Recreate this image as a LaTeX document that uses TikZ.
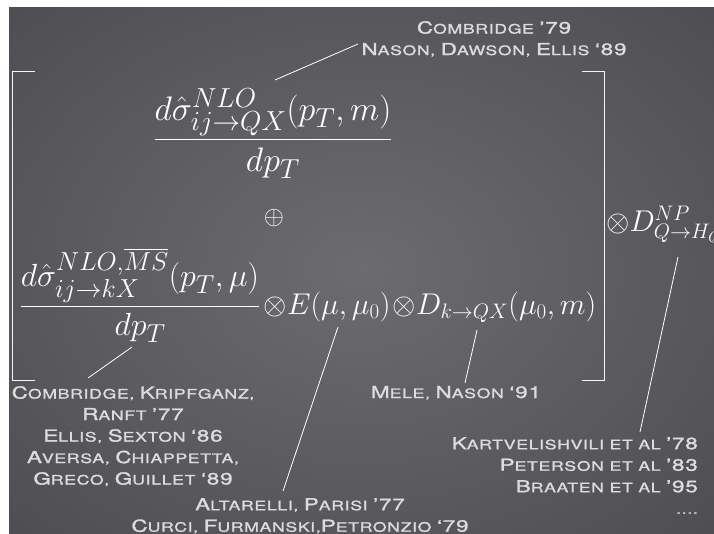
\RequirePackage{fix-cm}
\documentclass[tikz,border=0pt]{standalone}
\usepackage{amsmath}
\usepackage{fontspec}
\usetikzlibrary{positioning}

\newfontfamily\citefont[FakeStretch=1.36,FakeBold=1.5,LetterSpace=5]{TeX Gyre Heros}
\DeclareMathSizes{34}{34}{27.5}{21}
\DeclareMathSizes{32}{32}{26}{20}
\DeclareMathSizes{30}{30}{21}{16}
\newcommand\bc[1]{{\fontsize{16.5}{16.5}\selectfont #1}}

\definecolor{citegray}{HTML}{DCDCDC}
\definecolor{slidemid}{HTML}{6C6C70}
\definecolor{slideedge}{HTML}{333337}
\pgfdeclareradialshading{slideshade}{\pgfpoint{0bp}{0bp}}{color(0bp)=(slidemid); color(68bp)=(slideedge)}

\begin{document}
\begin{tikzpicture}[x=1pt, y=-1pt,
  link/.style={white, line width=0.8pt},
  brk/.style={white!92!gray, line width=1pt},
  eqn/.style={inner sep=0pt, text=white, font=\fontsize{32}{38}\selectfont},
  eqs/.style={inner sep=0pt, text=white, font=\fontsize{30}{36}\selectfont},
  cite/.style={inner sep=0pt, text=citegray, font=\citefont\fontsize{13}{21.5}\selectfont}]
\useasboundingbox (0,0) rectangle (714,533);
\clip (0,0) rectangle (714,533);

% slide background
\fill[white] (0,0) rectangle (714,533);
\shade[shading=slideshade] (9,7) rectangle (714,533);

% formula
\node[eqn, font=\fontsize{34}{40}\selectfont, anchor=base] (numQ) at (273,148) {$\dfrac{d\hat\sigma^{NLO}_{ij\to QX}(p_T,m)}{dp_T}$};
\node[inner sep=0pt, text=white, font=\fontsize{26}{30}\selectfont] (plus) at (274,218) {$\oplus$};
\node[eqn, anchor=base] (numk) at (140,314) {$\dfrac{d\hat\sigma^{NLO,\overline{MS}}_{ij\to kX}(p_T,\mu)}{dp_T}$};
\node[eqs, base right=3pt of numk] (evol) {$\otimes E(\mu,\mu_0)$};
\node[eqs, base right=2pt of evol] (frag) {$\otimes D_{k\to QX}(\mu_0,m)$};
\node[eqs, anchor=base west] (npfrag) at (606,231) {$\otimes D^{NP}_{Q\to H_Q}$};

% square brackets
\draw[brk] (35,71) -| (12,380) -- (35,380);
\draw[brk] (582,71) -| (604,380) -- (582,380);

% references
\node[cite, align=center, anchor=north] (combr) at (494,21) {\bc{C}OMBRIDGE \bc{’79}\\ \bc{N}ASON, \bc{D}AWSON, \bc{E}LLIS \bc{‘89}};
\node[cite, align=center, anchor=north] (kripf) at (133,386) {\bc{C}OMBRIDGE, \bc{K}RIPFGANZ,\\ \bc{R}ANFT \bc{’77}\\ \bc{E}LLIS, \bc{S}EXTON \bc{‘86}\\ \bc{A}VERSA, \bc{C}HIAPPETTA,\\ \bc{G}RECO, \bc{G}UILLET \bc{‘89}};
\node[cite, anchor=base] (mele) at (456,398) {\bc{M}ELE, \bc{N}ASON \bc{‘91}};
\node[cite, align=center, anchor=north] (altar) at (300,498) {\bc{A}LTARELLI, \bc{P}ARISI \bc{’77}\\ \bc{C}URCI, \bc{F}URMANSKI,\bc{P}ETRONZIO \bc{‘79}};
\node[cite, align=right, anchor=north east] (kartv) at (698,437) {\bc{K}ARTVELISHVILI ET AL \bc{’78}\\ \bc{P}ETERSON ET AL \bc{’83}\\ \bc{B}RAATEN ET AL \bc{’95}\\ ....};

% connector ends
\coordinate (combrtip) at (358,44);
\coordinate (numQtip) at (275,80);
\coordinate (numktip) at (132,347);
\coordinate (kripftip) at (88,378);
\coordinate (evoltip) at (338,327);
\coordinate (altartip) at (283,491);
\coordinate (fragtip) at (477,330);
\coordinate (meletip) at (465,383);
\coordinate (npfragtip) at (678,257);
\coordinate (kartvtip) at (640,432);

\draw[link] (combrtip) -- (numQtip);
\draw[link] (numktip) -- (kripftip);
\draw[link] (evoltip) -- (altartip);
\draw[link] (fragtip) -- (meletip);
\draw[link] (npfragtip) -- (kartvtip);
\end{tikzpicture}
\end{document}
